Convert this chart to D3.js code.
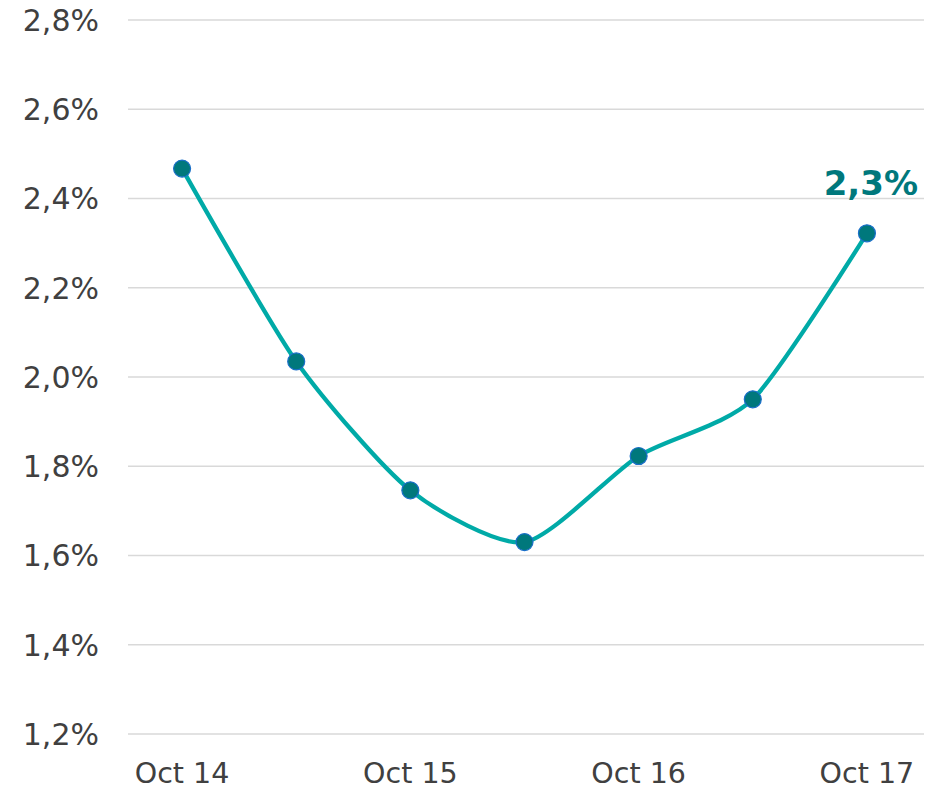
<!DOCTYPE html>
<html>
<head>
<meta charset="utf-8">
<script src="https://cdn.jsdelivr.net/npm/d3@7"></script>
<style>
  body { margin: 0; background: #fff; }
  svg { display: block; font-family: Verdana, "DejaVu Sans", sans-serif; }
</style>
</head>
<body>
<svg width="930" height="789"></svg>
<script>
// data
const periods = ["Oct 14", "Apr 15", "Oct 15", "Apr 16", "Oct 16", "Apr 17", "Oct 17"];
const shownLabels = ["Oct 14", "Oct 15", "Oct 16", "Oct 17"];
const rates = [2.467, 2.035, 1.746, 1.630, 1.823, 1.950, 2.322];
const yTicks = [1.2, 1.4, 1.6, 1.8, 2.0, 2.2, 2.4, 2.6, 2.8];
const lastLabel = "2,3%";

const svg = d3.select("svg");
const gridLeft = 128, gridRight = 924, plotTop = 20, plotBottom = 734;

const x = d3.scalePoint()
  .domain(periods)
  .range([125, 924])
  .padding(0.5);

const y = d3.scaleLinear()
  .domain([1.2, 2.8])
  .range([plotBottom, plotTop]);

const fmt = v => v.toFixed(1).replace(".", ",") + "%";

// gridlines
svg.append("g")
  .selectAll("line")
  .data(yTicks)
  .join("line")
  .attr("x1", gridLeft)
  .attr("x2", gridRight)
  .attr("y1", d => y(d))
  .attr("y2", d => y(d))
  .attr("stroke", "#d9d9d9")
  .attr("stroke-width", 1.5);

// y axis labels
svg.append("g")
  .selectAll("text")
  .data(yTicks)
  .join("text")
  .attr("x", 99)
  .attr("y", d => y(d))
  .attr("dy", "0.36em")
  .attr("text-anchor", "end")
  .attr("font-size", 30)
  .attr("fill", "#404040")
  .text(fmt);

// x axis labels
svg.append("g")
  .selectAll("text")
  .data(shownLabels)
  .join("text")
  .attr("x", d => x(d))
  .attr("y", 783)
  .attr("text-anchor", "middle")
  .attr("font-size", 28.5)
  .attr("fill", "#404040")
  .text(d => d);

// line
const line = d3.line()
  .x((d, i) => x(periods[i]))
  .y(d => y(d))
  .curve(d3.curveCardinal.tension(0.3));

svg.append("path")
  .datum(rates)
  .attr("d", line)
  .attr("fill", "none")
  .attr("stroke", "#00aaa7")
  .attr("stroke-width", 4.3);

// markers
svg.append("g")
  .selectAll("circle")
  .data(rates)
  .join("circle")
  .attr("cx", (d, i) => x(periods[i]))
  .attr("cy", d => y(d))
  .attr("r", 8.5)
  .attr("fill", "#00787c")
  .attr("stroke", "#1a6fc9")
  .attr("stroke-width", 1.2);

// last value label
const lastIdx = rates.length - 1;
svg.append("text")
  .attr("x", 918)
  .attr("y", y(rates[lastIdx]) - 38)
  .attr("text-anchor", "end")
  .attr("font-size", 34)
  .attr("font-weight", "bold")
  .attr("fill", "#00787c")
  .text(lastLabel);
</script>
</body>
</html>
